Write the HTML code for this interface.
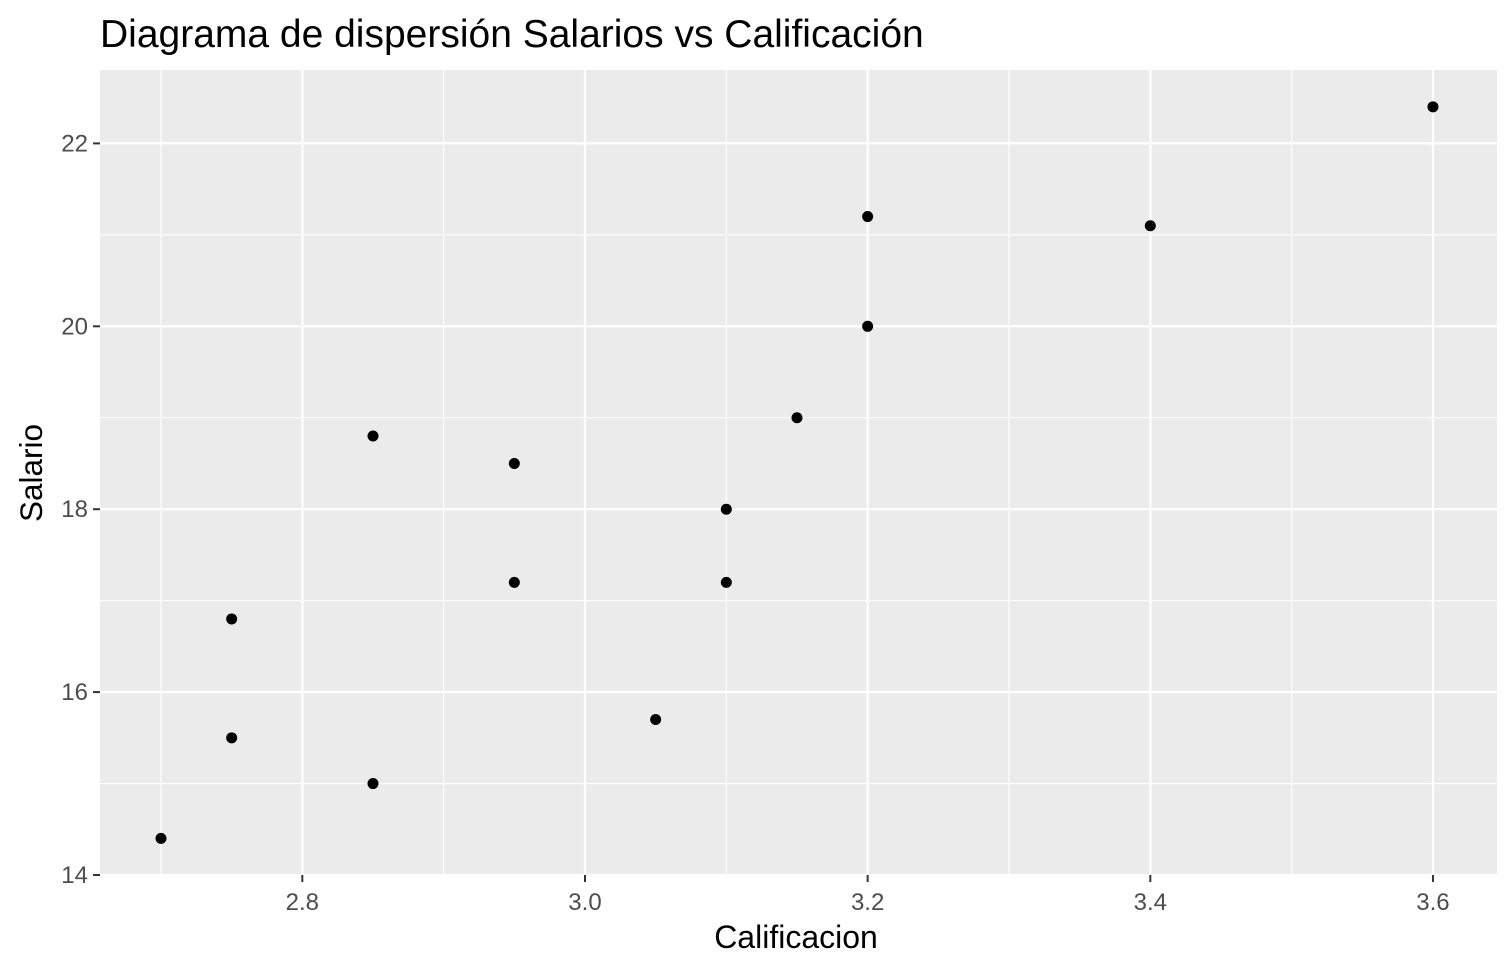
<!DOCTYPE html>
<html><head><meta charset="utf-8"><style>
html,body{margin:0;padding:0;background:#fff;}
svg{display:block;font-family:"Liberation Sans",Arial,sans-serif;}
</style></head><body>
<svg id="chart" width="1512" height="972" viewBox="0 0 1512 972">
<text x="100" y="47" font-size="39" fill="#000">Diagrama de dispersión Salarios vs Calificación</text>
<rect x="100" y="70" width="1397" height="805" fill="#EBEBEB"/>
<g id="grid"></g>
<g id="points"></g>
<g id="axes"></g>
<text x="796" y="948" font-size="32" text-anchor="middle" fill="#000">Calificacion</text>
<text transform="translate(42,473) rotate(-90)" font-size="31.5" text-anchor="middle" fill="#000">Salario</text>
</svg>
<script>
const xVals = [2.7, 2.75, 2.75, 2.85, 2.85, 2.95, 2.95, 3.05, 3.1, 3.1, 3.15, 3.2, 3.2, 3.4, 3.6];
const yVals = [14.4, 16.8, 15.5, 18.8, 15.0, 18.5, 17.2, 15.7, 18.0, 17.2, 19.0, 21.2, 20.0, 21.1, 22.4];
const xTicks = [2.8, 3.0, 3.2, 3.4, 3.6];
const xTickLabels = ["2.8", "3.0", "3.2", "3.4", "3.6"];
const xMinor = [2.7, 2.9, 3.1, 3.3, 3.5];
const yTicks = [14, 16, 18, 20, 22];
const yTickLabels = ["14", "16", "18", "20", "22"];
const yMinor = [15, 17, 19, 21];

const PL = 100, PR = 1497, PT = 70, PB = 875;
function xs(v){ return 161 + (v - 2.7) * 1413.3; }
function ys(v){ return 875 - (v - 14) * 91.45; }
const NS = "http://www.w3.org/2000/svg";
function mk(tag, attrs, parent){
  const e = document.createElementNS(NS, tag);
  for (const k in attrs) e.setAttribute(k, attrs[k]);
  parent.appendChild(e);
  return e;
}
const grid = document.getElementById('grid');
const pts = document.getElementById('points');
const axes = document.getElementById('axes');

xMinor.forEach(v => {
  const l = mk('line', {x1: xs(v), x2: xs(v), y1: PT, y2: PB, stroke: '#fff', 'stroke-width': 1.1}, grid);
  
  
});
yMinor.forEach(v => {
  const l = mk('line', {x1: PL, x2: PR, y1: ys(v), y2: ys(v), stroke: '#fff', 'stroke-width': 1.1}, grid);
  
  
});
xTicks.forEach((v, i) => {
  const l = mk('line', {x1: xs(v), x2: xs(v), y1: PT, y2: PB, stroke: '#fff', 'stroke-width': 2.2}, grid);
  
  
  const t = mk('line', {x1: xs(v), x2: xs(v), y1: PB, y2: PB + 7, stroke: '#333', 'stroke-width': 2}, axes);
  
  
  const tx = mk('text', {x: xs(v), y: 910, 'font-size': 24, 'text-anchor': 'middle', fill: '#4D4D4D'}, axes);
  tx.textContent = xTickLabels[i];
  
  
});
yTicks.forEach((v, i) => {
  const l = mk('line', {x1: PL, x2: PR, y1: ys(v), y2: ys(v), stroke: '#fff', 'stroke-width': 2.2}, grid);
  
  
  const t = mk('line', {x1: PL - 7, x2: PL, y1: ys(v), y2: ys(v), stroke: '#333', 'stroke-width': 2}, axes);
  
  
  const tx = mk('text', {x: PL - 12, y: ys(v) + 8, 'font-size': 24, 'text-anchor': 'end', fill: '#4D4D4D'}, axes);
  tx.textContent = yTickLabels[i];
  
  
});
xVals.forEach((v, i) => {
  const c = mk('circle', {cx: xs(v), cy: ys(yVals[i]), r: 5.5, fill: '#000'}, pts);
  
  
});
</script>
</body></html>
